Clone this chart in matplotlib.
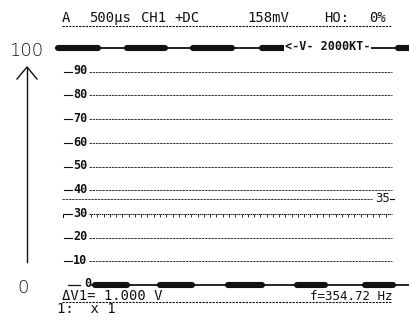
import numpy as np
import matplotlib
matplotlib.use('Agg')
import matplotlib.pyplot as plt

# scope screen data (x in divisions, 500 us/div; y in % of screen)
grid_levels = [90, 80, 70, 60, 50, 40, 30, 20, 10]
grid_labels = ['90', '80', '70', '60', '50', '40', '30', '20', '10']
cursor_level = 35
high_level = 100
low_level = 0

# noisy bursts on the square wave trace
burst_start = [-0.12, 1.97, 3.97, 6.06, 10.18, 1.00, 2.97, 5.03, 7.12, 9.18]
burst_end = [1.09, 3.12, 5.15, 7.21, 10.52, 1.97, 3.94, 6.06, 7.97, 10.03]
burst_level = [100, 100, 100, 100, 100, 0, 0, 0, 0, 0]

header = ['A', '500\u00b5s', 'CH1', '+DC', '158mV', 'HO:', '0%']
header_px = [62, 89, 141, 174, 247, 324, 369]
footer_left = '\u0394V1= 1.000 V'
footer_right = 'f=354.72 Hz'
probe_text = '1:  x 1'
cursor_text = '<-V- 2000KT-'

W, H = 409, 326
fig = plt.figure(figsize=(W / 100, H / 100), dpi=100)
ax = fig.add_axes([0, 0, 1, 1])
ax.axis('off')

# pixel -> data mapping: 0..10 div spans px 62..392, 0..100 spans px 285..48
ax.set_xlim(-62 / 33, (W - 62) / 33)
ax.set_ylim(-41 / 2.37, 100 + 48 / 2.37)

def fp(x, y):
    # pixel (from top-left) to figure fraction
    return x / W, 1 - y / H

mono = 'DejaVu Sans Mono'
ink = '#111111'

# grid lines with labels
for lev, lab in zip(grid_levels, grid_labels):
    ax.plot([0.06, 0.30], [lev, lev], color=ink, lw=0.8)
    ax.text(0.56, lev + 0.3, lab, ha='center', va='center', fontsize=8.5,
            fontweight='bold', family=mono, color=ink)
    if lev == 30:
        ax.plot([0.82, 10], [lev, lev], color=ink, lw=0.7, ls=(0, (1.5, 0.6)))
        ticks = np.arange(0.88, 10, 0.19)
        ax.vlines(ticks, lev - 1.3, lev, color=ink, lw=0.6)
        ax.plot([0.02, 0.02, 0.2], [lev - 1.5, lev, lev], color=ink, lw=0.7)
    else:
        ax.plot([0.82, 10], [lev, lev], color=ink, lw=0.7, ls=(0, (2.5, 0.8)), alpha=0.85)

# cursor line at 35
ax.plot([0, 9.4], [cursor_level + 1.2, cursor_level + 1.2], color=ink, lw=0.7,
        ls=(0, (2.5, 0.8)), alpha=0.85)
ax.text(9.7, cursor_level + 1.4, '35', ha='center', va='center', fontsize=8.5,
        family='DejaVu Sans', color=ink)
ax.plot([9.95, 10.05], [cursor_level + 1.2] * 2, color=ink, lw=0.8)

# trace: high and low rails
ax.plot([-0.12, 10.52], [high_level, high_level], color=ink, lw=1.3)
ax.plot([0.9, 10.52], [low_level, low_level], color=ink, lw=1.3)
ax.plot([0.18, 0.55], [low_level, low_level], color=ink, lw=0.9)
ax.text(0.79, low_level + 0.6, '0', ha='center', va='center', fontsize=8.5,
        fontweight='bold', family=mono, color=ink)
for s, e, lev in zip(burst_start, burst_end, burst_level):
    ax.plot([s, e], [lev, lev], color=ink, lw=4.4, solid_capstyle='round')

ax.text(8.05, high_level + 0.6, cursor_text, ha='center', va='center', fontsize=8.5,
        family=mono, fontweight='bold', color=ink,
        bbox=dict(facecolor='white', edgecolor='none', pad=0.3))

# header
for t, x in zip(header, header_px):
    fig.text(*fp(x, 22), t, ha='left', va='baseline', fontsize=10, family=mono, color=ink)
fig.add_artist(plt.Line2D([62 / W, 392 / W], [1 - 26 / H] * 2, color=ink, lw=0.8,
                          ls=(0, (2, 1)), transform=fig.transFigure))

# footer
fig.text(*fp(62, 300), footer_left, ha='left', va='baseline', fontsize=10, family=mono, color=ink)
fig.text(*fp(393, 300), footer_right, ha='right', va='baseline', fontsize=9, family=mono, color=ink)
fig.add_artist(plt.Line2D([62 / W, 392 / W], [1 - 302 / H] * 2, color=ink, lw=0.8,
                          ls=(0, (2, 1)), transform=fig.transFigure))
fig.text(*fp(57, 313), probe_text, ha='left', va='baseline', fontsize=10, family=mono, color=ink)

# left scale: 100 / 0 with arrow
fig.text(*fp(26, 51), '100', ha='center', va='center', fontsize=13,
         family='DejaVu Sans', fontweight='light', color='#111111')
fig.text(*fp(23, 288), '0', ha='center', va='center', fontsize=13,
         family='DejaVu Sans', fontweight='light', color='#111111')
fig.add_artist(plt.Line2D([27 / W, 27 / W], [1 - 68 / H, 1 - 262 / H], color=ink, lw=1.0,
                          transform=fig.transFigure))
fig.add_artist(plt.Line2D([17 / W, 27 / W, 37 / W], [1 - 79 / H, 1 - 67 / H, 1 - 79 / H],
                          color=ink, lw=1.0, transform=fig.transFigure))

fig.savefig('out.png', dpi=100, facecolor='white')
